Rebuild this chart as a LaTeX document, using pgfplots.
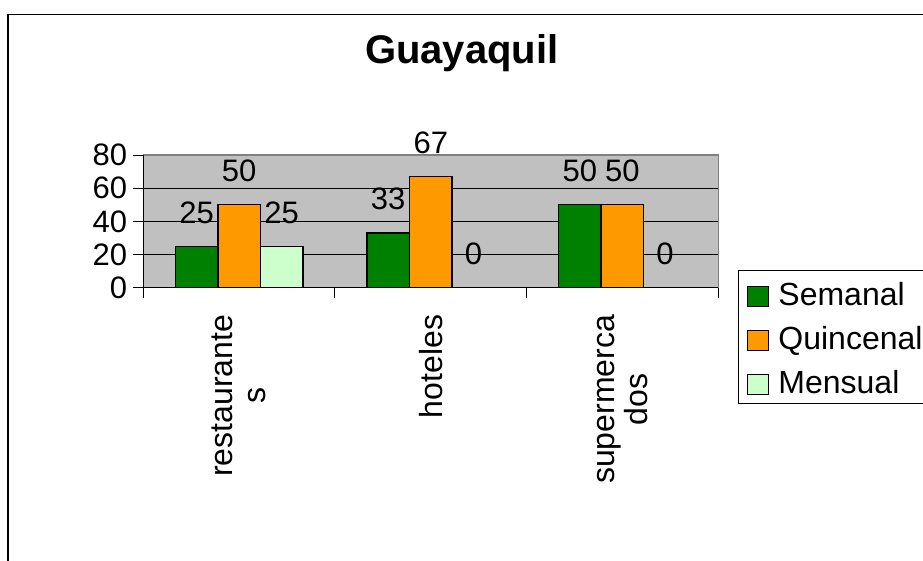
\documentclass[border=0pt]{standalone}
\usepackage{pgfplots}
\pgfplotsset{compat=1.18}
\usepackage{fontspec}
\setmainfont{Liberation Sans}
\definecolor{cGreen}{RGB}{0,128,0}
\definecolor{cOrange}{RGB}{255,153,0}
\definecolor{cLight}{RGB}{204,255,204}
\definecolor{cPlot}{RGB}{192,192,192}
\definecolor{cBorder}{RGB}{128,128,128}
\begin{document}
\begin{tikzpicture}[x=1pt,y=1pt]
\useasboundingbox (0,0) rectangle (923,561);
\draw[line width=1.3pt] (8,-50) -- (8,546.7) -- (1000,546.7);
\node[font=\bfseries\fontsize{40}{40}\selectfont, anchor=base, inner sep=0pt] at (461.7,497.5) {Guayaquil};
\begin{axis}[
  at={(143.3pt,273.3pt)}, anchor=south west,
  scale only axis, width=575pt, height=132.7pt,
  xmin=-0.5, xmax=2.5, ymin=0, ymax=80,
  clip=false,
  ybar=0pt, bar width=42.6pt,
  axis background/.style={fill=cPlot},
  axis line style={draw=cBorder, line width=1.2pt},
  ymajorgrids, grid style={black, line width=0.8pt},
  ytick={0,20,40,60,80},
  ytick pos=left, xtick pos=bottom,
  tick align=outside, major tick length=10pt,
  y tick style={draw=black, line width=1pt},
  x tick style={draw=none},
  /pgf/number format/assume math mode=true,
  yticklabel style={font=\fontsize{31}{31}\selectfont, inner sep=0pt, anchor=east, xshift=-6pt},
  xtick={0,1,2},
  xticklabels={{restaurante\\s},{hoteles},{supermerca\\dos}},
  xticklabel shift=17pt,
  xticklabel style={font=\fontsize{32}{33}\selectfont, rotate=90, anchor=east, align=center, inner sep=0pt},
  nodes near coords,
  nodes near coords style={font=\fontsize{31}{31}\selectfont, inner sep=0pt, anchor=south, yshift=22pt, black},
  every axis plot/.append style={draw=black, line width=1.4pt},
  legend style={at={(1.0343,0.1334)}, anchor=north west, draw=black, line width=0.8pt, fill=white,
    inner xsep=9pt, inner ysep=2pt, row sep=3pt, column sep=9pt,
    nodes={font=\fontsize{32}{32}\selectfont, inner sep=0pt, text height=33pt, text depth=8pt, anchor=base west}},
  legend cell align=left,
  legend image code/.code={\draw[#1, line width=1pt] (0pt,-1.5pt) rectangle (21pt,18.5pt);},
]
\addplot[fill=cGreen] coordinates {(0,25) (1,33) (2,50)};
\addplot[fill=cOrange] coordinates {(0,50) (1,67) (2,50)};
\addplot[fill=cLight] coordinates {(0,25) (1,0) (2,0)};
\legend{Semanal,Quincenal,Mensual}
\draw[black, line width=1.2pt] (rel axis cs:0,1) -- (rel axis cs:0,0) -- (rel axis cs:1,0);
\pgfplotsinvokeforeach{-0.5,0.5,1.5,2.5}{
  \draw[black, line width=1pt] (axis cs:#1,0) -- ++(0pt,-10pt);
}
\end{axis}
\end{tikzpicture}
\end{document}
